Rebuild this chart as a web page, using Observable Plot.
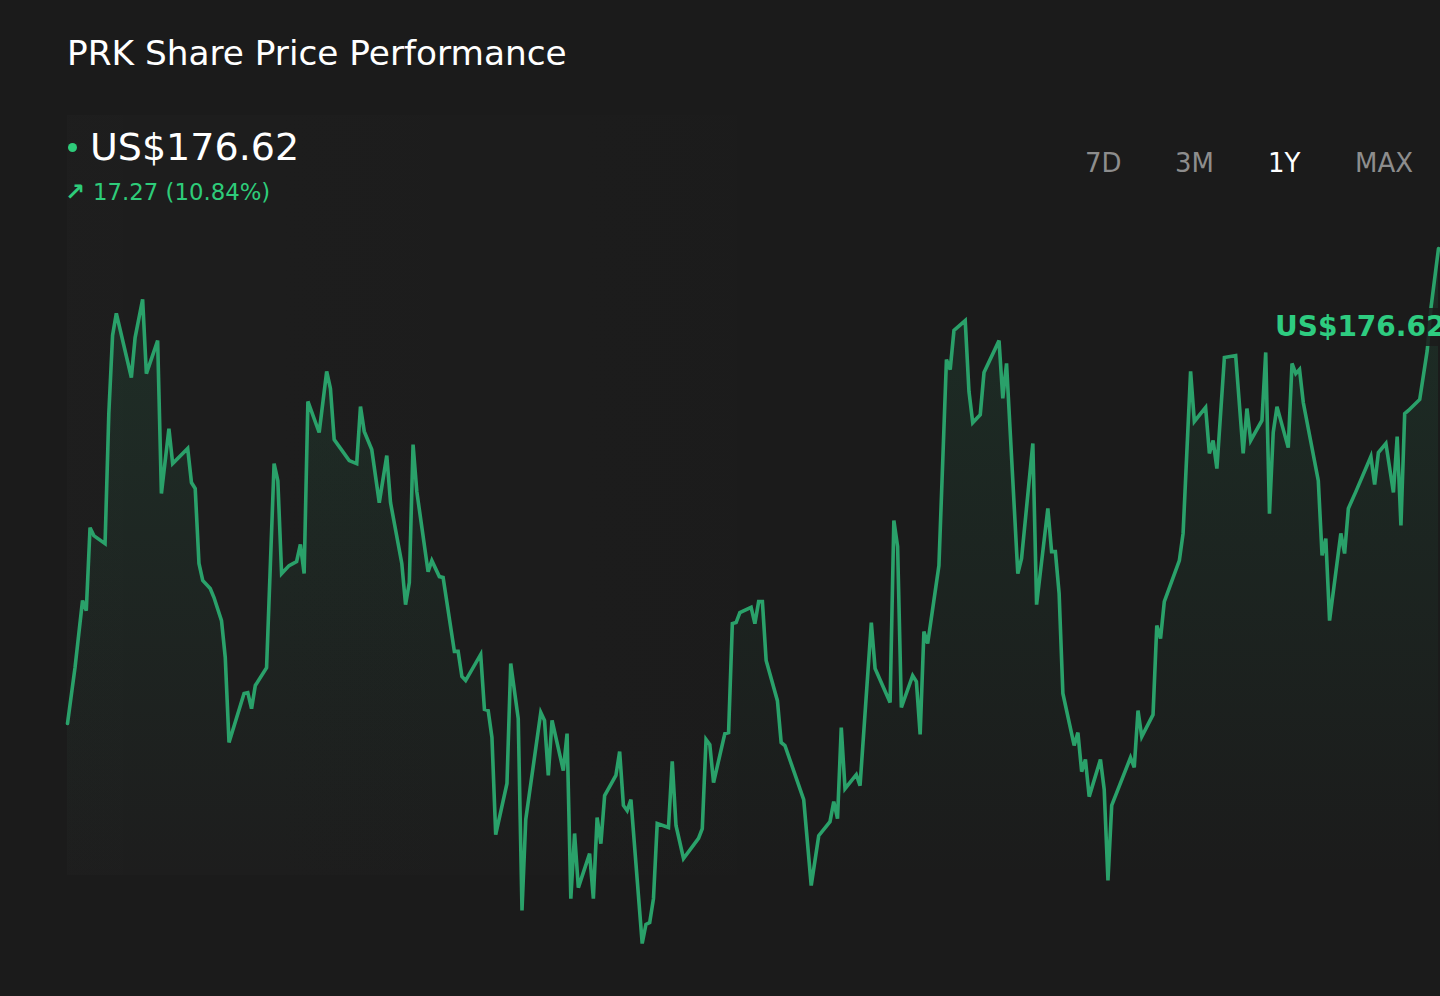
<!DOCTYPE html>
<html>
<head>
<meta charset="utf-8">
<script src="https://cdn.jsdelivr.net/npm/d3@7"></script>
<script src="https://cdn.jsdelivr.net/npm/@observablehq/plot@0.6"></script>
<style>
  html, body { margin: 0; padding: 0; background: #1b1b1b; width: 1440px; height: 996px; overflow: hidden;
    font-family: "DejaVu Sans", sans-serif; }
  .abs { position: absolute; line-height: 1; white-space: nowrap; }
</style>
</head>
<body>
<div id="panel" style="position:absolute;left:67px;top:115px;width:1373px;height:760px;background:linear-gradient(to right, rgba(255,255,255,0.012), rgba(255,255,255,0.0) 60%);"></div>
<div id="chart" style="position:absolute;left:0;top:0;"></div>
<div id="overlay"></div>
<script>
// ---- data ----
const title = "PRK Share Price Performance";
const currency = "US$";
const lastPrice = 176.62;
const change = 17.27;
const changePct = 10.84;
const ranges = ["7D", "3M", "1Y", "MAX"];
const activeRange = "1Y";

// calendar day index within the 1Y window
const days = [0,2,4,5,6,7,10,11,12,13,17,18,20,21,24,25,27,28,32,33,34,35,36,38,39,41,42,43,47,48,49,50,53,55,56,57,59,61,62,63,64,67,69,70,71,75,77,78,79,81,83,85,86,89,90,91,92,93,96,97,99,100,103,104,105,106,110,111,112,113,114,117,118,120,121,122,126,127,128,129,132,133,134,135,136,139,140,141,142,143,146,147,148,149,150,153,154,155,156,157,160,161,162,164,168,169,170,171,172,175,176,177,178,179,182,183,184,185,186,189,190,191,196,198,200,203,204,205,206,207,210,211,214,215,219,220,221,222,225,226,227,228,229,232,234,235,236,239,240,241,243,244,248,249,250,253,254,257,258,261,262,263,264,265,268,269,270,271,272,275,276,277,278,283,284,285,286,289,290,291,292,296,297,299,300,303,304,305,306,308,311,313,314,315,318,319,320,321,322,325,326,327,328,329,333,334,335,336,339,340,341,343,347,348,349,351,353,354,355,356,357,360,362,363,365];
const prices = [159.35,161.38,163.82,163.45,166.47,166.18,165.89,170.62,173.46,174.26,171.93,173.38,174.77,172.07,173.27,167.71,170.07,168.80,169.35,168.11,167.89,165.17,164.55,164.26,163.93,163.09,161.75,158.66,160.44,160.47,159.89,160.73,161.38,168.80,168.18,164.80,165.09,165.24,165.86,164.80,171.06,169.93,172.15,171.53,169.67,168.91,168.80,170.87,169.97,169.31,167.38,169.09,167.38,165.17,163.67,164.47,169.49,167.78,164.87,165.27,164.69,164.66,161.97,161.97,161.06,160.91,161.86,159.86,159.82,158.84,155.31,157.17,161.53,159.53,152.55,155.86,159.75,159.46,157.46,159.46,157.64,158.98,152.98,155.35,153.38,154.62,152.98,155.93,154.98,156.73,157.46,158.33,156.37,156.18,156.58,151.35,152.04,152.11,152.98,155.71,155.57,157.97,155.64,154.44,155.17,155.53,158.77,158.58,157.20,158.98,159.02,162.98,163.02,163.38,163.57,162.98,163.78,163.78,161.64,160.18,158.66,158.55,156.58,153.46,155.27,155.78,156.51,155.89,159.20,156.98,157.49,157.09,163.02,161.35,160.11,166.73,165.78,159.93,161.09,160.87,158.95,162.69,162.26,165.09,172.58,172.22,173.64,174.00,171.42,170.29,170.58,172.11,173.27,171.17,172.44,164.80,165.35,169.53,163.67,167.17,165.60,165.60,164.07,160.44,158.55,159.02,157.60,158.04,156.69,158.04,156.95,153.64,156.37,158.11,157.75,159.82,158.87,159.67,162.91,162.44,163.78,165.27,166.26,172.15,170.33,170.84,169.17,169.64,168.62,172.66,172.73,169.17,170.80,169.64,170.37,172.84,166.98,169.93,170.87,169.38,172.44,172.07,172.22,171.02,168.18,165.46,166.07,163.09,166.26,165.53,167.17,167.78,169.06,168.04,169.20,169.53,167.75,169.78,166.55,170.62,170.73,171.13,172.91,174.47,176.62];

// ---- chart ----
const data = days.map((d, i) => ({day: d, price: prices[i]}));
const yMin = d3.min(prices), yMax = d3.max(prices);
const green = "#2aa16a";

const defs = () => {
  const g = d3.create("svg:defs");
  const lg = g.append("linearGradient").attr("id", "areaGrad")
    .attr("gradientUnits", "userSpaceOnUse")
    .attr("x1", 0).attr("x2", 0).attr("y1", 248).attr("y2", 880);
  lg.append("stop").attr("offset", 0).attr("stop-color", green).attr("stop-opacity", 0.14);
  lg.append("stop").attr("offset", 1).attr("stop-color", green).attr("stop-opacity", 0);
  return g.node();
};

const chart = Plot.plot({
  width: 1440,
  height: 996,
  marginLeft: 67,
  marginRight: 2,
  marginTop: 248,
  marginBottom: 53,
  x: {domain: [d3.min(days), d3.max(days)], axis: null},
  y: {domain: [yMin, yMax], axis: null},
  style: {background: "transparent", overflow: "visible"},
  marks: [
    defs,
    Plot.areaY(data, {x: "day", y1: yMin, y2: "price", fill: "url(#areaGrad)"}),
    Plot.lineY(data, {x: "day", y: "price", stroke: green, strokeWidth: 3.6, strokeLinejoin: "miter", strokeMiterlimit: 4})
  ]
});
document.getElementById("chart").appendChild(chart);

// ---- texts ----
const ov = document.getElementById("overlay");
function add(html, style) {
  const el = document.createElement("div");
  el.className = "abs";
  el.setAttribute("style", style);
  el.innerHTML = html;
  ov.appendChild(el);
  return el;
}
add(title, "left:67px;top:36px;font-size:34.3px;color:#ffffff;");
add("", "left:67.5px;top:142.5px;width:9px;height:9px;border-radius:50%;background:#2ecc7a;");
add(currency + lastPrice.toFixed(2), "left:90px;top:128px;font-size:38px;color:#ffffff;");
add("\u2197", "left:65px;top:180px;font-size:24px;color:#2ecc7a;font-weight:bold;");
add(change.toFixed(2) + " (" + changePct.toFixed(2) + "%)", "left:93px;top:180.5px;font-size:22.8px;color:#2ecc7a;");

const rangeX = [1085, 1175, 1268, 1355];
ranges.forEach((r, i) => {
  add(r, `left:${rangeX[i]}px;top:150px;font-size:26px;color:${r === activeRange ? "#ffffff" : "#8d8d8d"};`);
});

add("", "left:1266px;top:308px;width:174px;height:38px;background:rgba(27,27,27,0.85);");
add(currency + lastPrice.toFixed(2), "left:1275px;top:313px;font-size:28px;font-weight:bold;color:#2ecc80;");
</script>
</body>
</html>
